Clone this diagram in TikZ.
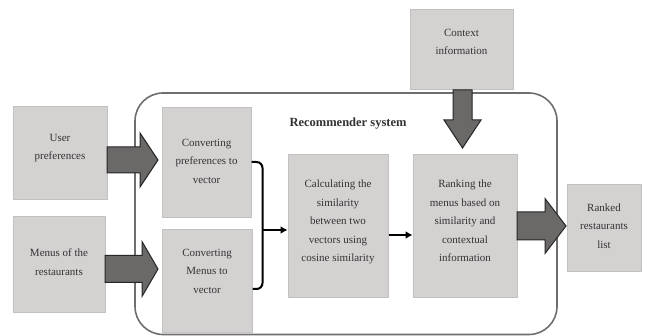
\documentclass[tikz,border=0pt]{standalone}
\usepackage{fontspec}
\setmainfont{Liberation Serif}
\usetikzlibrary{arrows.meta,calc}
\definecolor{boxfill}{HTML}{D4D1D1}
\definecolor{boxline}{HTML}{C2C0C0}
\definecolor{blkfill}{HTML}{6B6868}
\definecolor{txt}{HTML}{333333}
\definecolor{frame}{HTML}{6E6E6E}
\tikzset{
  gbox/.style={draw=boxline, line width=1pt, fill=boxfill, inner sep=0pt},
  lbl/.style={text=txt, align=center, font=\fontsize{11}{18.5}\selectfont, inner sep=0pt},
  blk/.style={draw=black!85, line width=1pt, fill=blkfill, line join=miter},
  thin arrow/.style={draw=black, line width=2pt, -{Latex[length=7pt,width=8pt]}},
  brace line/.style={draw=black, line width=2pt, rounded corners=6pt}
}
\newcommand\blkR[6]{%
  \draw[blk] (#1,#4-#5) -- (#2,#4-#5) -- (#2,#4-#6) -- (#3,#4) -- (#2,#4+#6) -- (#2,#4+#5) -- (#1,#4+#5) -- cycle;}
\newcommand\blkD[6]{%
  \draw[blk] (#4-#5,#1) -- (#4-#5,#2) -- (#4-#6,#2) -- (#4,#3) -- (#4+#6,#2) -- (#4+#5,#2) -- (#4+#5,#1) -- cycle;}
\begin{document}
\begin{tikzpicture}[x=1pt,y=-1pt]
\useasboundingbox (0,0) rectangle (647,336);
\fill[white] (0,0) rectangle (647,336);
% recommender frame
\draw[frame, line width=1.6pt, rounded corners=28pt] (135,93) rectangle (557,334.5);
\node[font=\fontsize{12.5}{14}\selectfont\bfseries, text=txt] (title) at (348,124) {Recommender system};
% boxes
\node[gbox, minimum width=94pt, minimum height=93pt] (user) at (60,153.5) {};
\node[gbox, minimum width=92pt, minimum height=95pt] (menus) at (59,264.5) {};
\node[gbox, minimum width=89pt, minimum height=110pt] (convp) at (206.5,163) {};
\node[gbox, minimum width=90pt, minimum height=102pt] (convm) at (207,281) {};
\node[gbox, minimum width=100pt, minimum height=142pt] (calc) at (338,226) {};
\node[gbox, minimum width=104pt, minimum height=142pt] (rank) at (465,226) {};
\node[gbox, minimum width=103pt, minimum height=80pt] (ctx) at (461.5,50) {};
\node[gbox, minimum width=74pt, minimum height=87pt] (ranked) at (604,228.5) {};
% texts
\node[lbl] (tuser) at (60,148) {User\\preferences};
\node[lbl] (tmenus) at (59,262) {Menus of the\\restaurants};
\node[lbl] (tconvp) at (206.5,161) {Converting\\preferences to\\vector};
\node[lbl] (tconvm) at (207,271) {Converting\\Menus to\\vector};
\node[lbl] (tcalc) at (338,222) {Calculating the\\similarity\\between two\\vectors using\\cosine similarity};
\node[lbl] (trank) at (465,221) {Ranking the\\menus based on\\similarity and\\contextual\\information};
\node[lbl] (tctx) at (461.5,42) {Context\\information};
\node[lbl] (tranked) at (604,226) {Ranked\\restaurants\\list};
% block arrows
\blkR{107}{140}{158}{160}{13}{27}
\blkR{105}{142}{158}{269}{13.5}{27.5}
\blkR{517}{545}{566}{226}{14}{27.5}
\blkD{90}{120}{148}{462.5}{9.5}{18.5}
% bracket and thin arrows
\coordinate (b1) at (convp.east |- 0,162);
\coordinate (b2) at (convm.east |- 0,289);
\draw[brace line] (b1) -- ++(11,0) |- (b2);
\coordinate (j) at (263,230);
\draw[thin arrow] (j) -- (j -| calc.west);
\path (calc.east) ++(0,9) coordinate (c1);
\draw[thin arrow] (c1) -- (c1 -| rank.west);
\end{tikzpicture}
\end{document}
